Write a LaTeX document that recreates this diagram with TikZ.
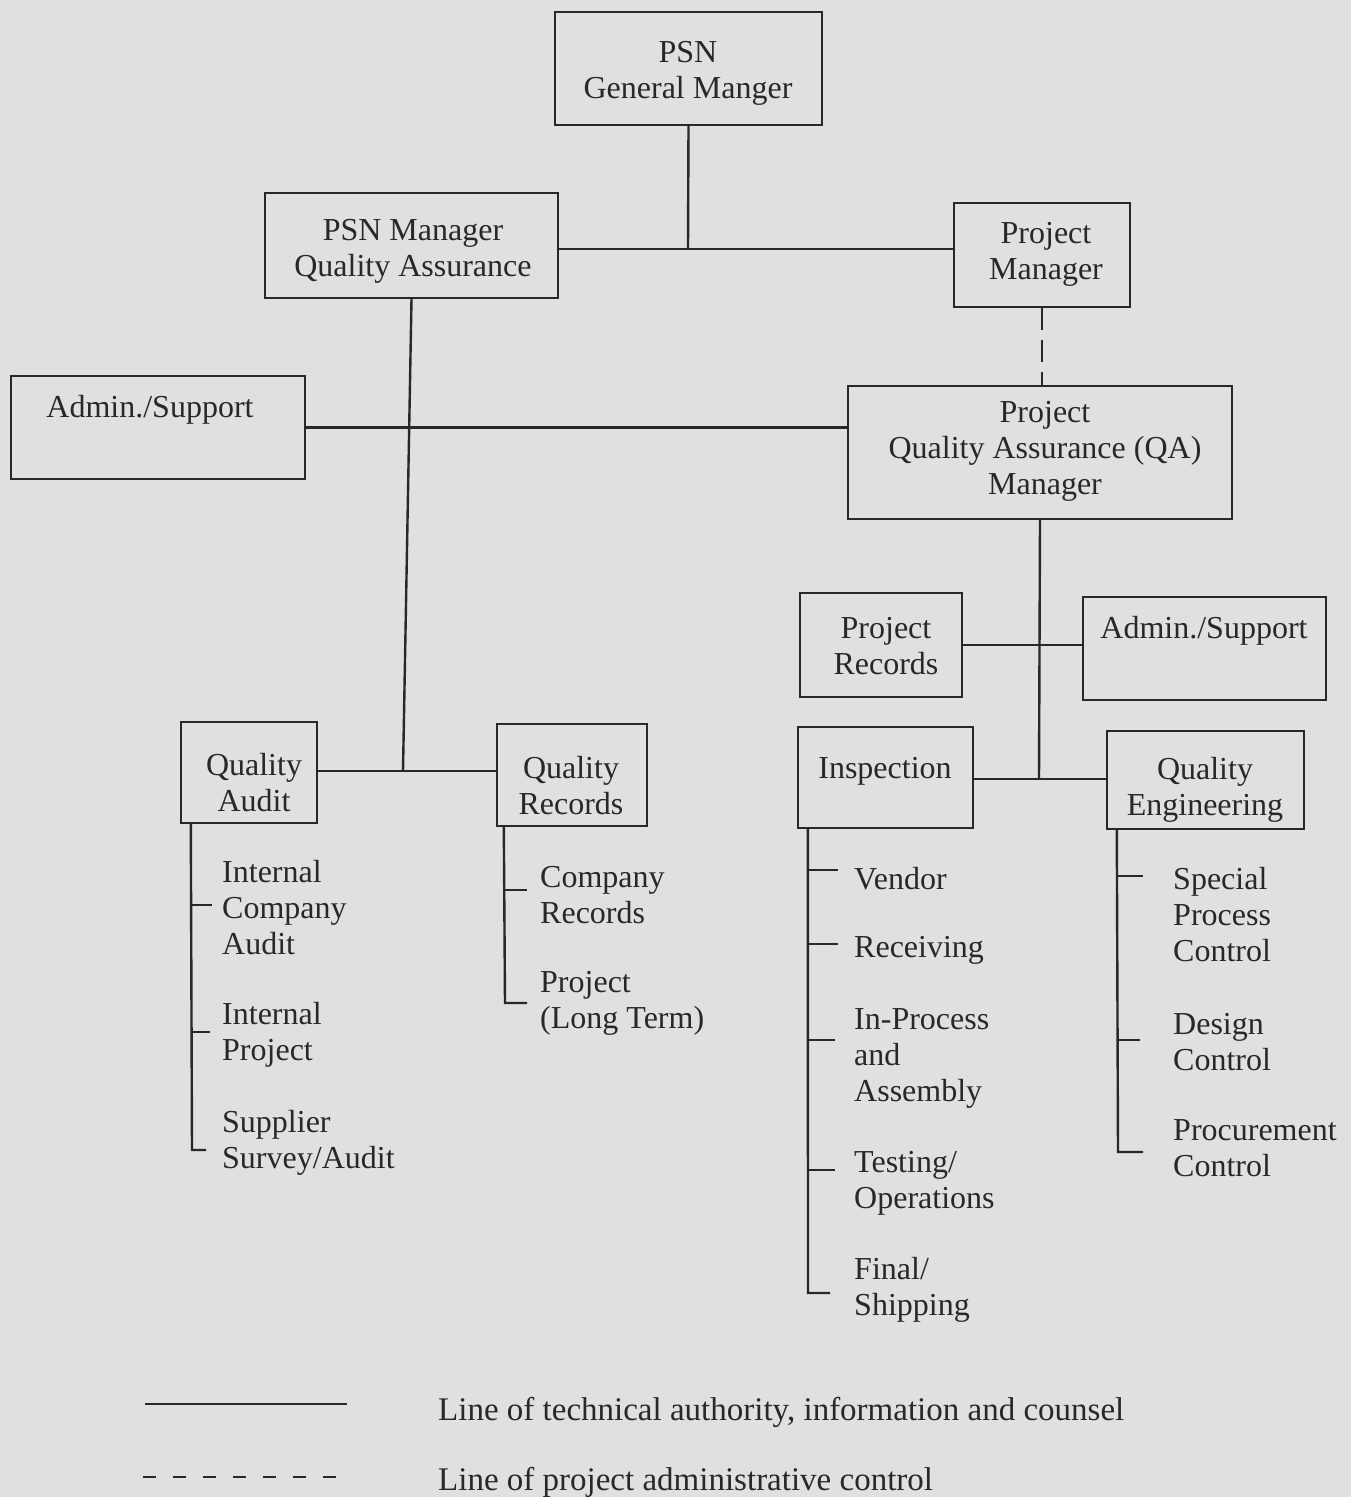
\documentclass[tikz,border=0pt]{standalone}
\usepackage{fontspec}
\setmainfont{Liberation Serif}
\definecolor{paper}{RGB}{224,224,224}
\definecolor{ink}{RGB}{40,40,40}
\begin{document}
\begin{tikzpicture}[x=1pt,y=-1pt,
  box/.style={draw=ink,line width=2.4pt,rectangle,inner sep=0pt},
  conn/.style={draw=ink,line width=2.4pt},
  dashconn/.style={draw=ink,line width=2.4pt,dash pattern=on 22pt off 10pt},
  txt/.style={text=ink,inner sep=0pt,align=center,font=\fontsize{32}{36}\selectfont},
  item/.style={text=ink,inner sep=0pt,align=left,anchor=west,font=\fontsize{32}{36}\selectfont},
  legtxt/.style={item,font=\fontsize{33}{36}\selectfont}]
\fill[paper] (0,0) rectangle (1351,1497);
\useasboundingbox (0,0) rectangle (1351,1497);

% boxes
\node[box,minimum width=267pt,minimum height=113pt] (gm) at (688.5,68.5) {};
\node[box,minimum width=293pt,minimum height=105pt] (psnqa) at (411.5,245.5) {};
\node[box,minimum width=176pt,minimum height=104pt] (pm) at (1042,255) {};
\node[box,minimum width=294pt,minimum height=103pt] (adminL) at (158,427.5) {};
\node[box,minimum width=384pt,minimum height=133pt] (pqa) at (1040,452.5) {};
\node[box,minimum width=162pt,minimum height=104pt] (precs) at (881,645) {};
\node[box,minimum width=243pt,minimum height=103pt] (adminR) at (1204.5,648.5) {};
\node[box,minimum width=136pt,minimum height=101pt] (qaud) at (249,772.5) {};
\node[box,minimum width=150pt,minimum height=102pt] (qrec) at (572,775) {};
\node[box,minimum width=175pt,minimum height=101pt] (insp) at (885.5,777.5) {};
\node[box,minimum width=197pt,minimum height=98pt] (qeng) at (1205.5,780) {};

% box texts
\node[txt] (tgm) at (688,73) {PSN\\General Manger};
\node[txt] (tpsnqa) at (413,251) {PSN Manager\\Quality Assurance};
\node[txt] (tpm) at (1046,254) {Project\\Manager};
\node[txt] (tadminL) at (150,410) {Admin./Support};
\node[txt] (tpqa) at (1045,451) {Project\\Quality Assurance (QA)\\Manager};
\node[txt] (tprecs) at (886,646) {Project\\Records};
\node[txt] (tadminR) at (1204,631) {Admin./Support};
\node[txt] (tqaud) at (254,783) {Quality\\Audit};
\node[txt] (tqrec) at (571,786) {Quality\\Records};
\node[txt] (tinsp) at (885,771) {Inspection};
\node[txt] (tqeng) at (1205,790) {Quality\\Engineering};

% junctions
\coordinate (j1) at (688,249);
\coordinate (j2) at (403,771);
\coordinate (j3) at (1040,645);
\coordinate (j4) at (1039,779);

% connectors
\draw[conn] (gm.south) -- (j1);
\draw[conn] (psnqa.east |- j1) -- (pm.west |- j1);
\draw[conn] (psnqa.south) -- (j2);
\draw[conn] (qaud.east |- j2) -- (qrec.west |- j2);
\draw[conn] (adminL.east) -- (pqa.west |- adminL.east);
\draw[dashconn] (pm.south) -- (pm.south |- pqa.north);
\draw[conn] (pqa.south) -- (j4);
\draw[conn] (precs.east |- j3) -- (adminR.west |- j3);
\draw[conn] (insp.east |- j4) -- (qeng.west |- j4);

% Quality Audit list
\draw[conn] ([xshift=11pt]qaud.south west) -- (192,1150) -- (206,1150);
\draw[conn] (192,905) -- (212,905);
\draw[conn] (192,1032) -- (210,1032);
\node[item] (ia1) at (222,908) {Internal\\Company\\Audit};
\node[item] (ia2) at (222,1035) {Internal\\Project};
\node[item] (ia3) at (222,1143) {Supplier\\Survey/Audit};

% Quality Records list
\draw[conn] ([xshift=8pt]qrec.south west) -- (505,1003) -- (527,1003);
\draw[conn] (505,890) -- (527,890);
\node[item] (ir1) at (540,895) {Company\\Records};
\node[item] (ir2) at (540,1003) {Project\\(Long Term)};

% Inspection list
\draw[conn] ([xshift=11pt]insp.south west) -- (808,1293) -- (830,1293);
\draw[conn] (809,870) -- (838,870);
\draw[conn] (809,944) -- (838,944);
\draw[conn] (808,1040) -- (835,1040);
\draw[conn] (808,1170) -- (835,1170);
\node[item] (ii1) at (854,879) {Vendor};
\node[item] (ii2) at (854,950) {Receiving};
\node[item] (ii3) at (854,1058) {In-Process\\and\\Assembly};
\node[item] (ii4) at (854,1183) {Testing/\\Operations};
\node[item] (ii5) at (854,1290) {Final/\\Shipping};

% Quality Engineering list
\draw[conn] ([xshift=11pt]qeng.south west) -- (1118,1152) -- (1143,1152);
\draw[conn] (1118,876) -- (1143,876);
\draw[conn] (1118,1040) -- (1140,1040);
\node[item] (iq1) at (1173,915) {Special\\Process\\Control};
\node[item] (iq2) at (1173,1042) {Design\\Control};
\node[item] (iq3) at (1173,1148) {Procurement\\Control};

% legend
\coordinate (ls1) at (145,1404);
\coordinate (ls2) at (347,1404);
\coordinate (ld1) at (143,1477);
\coordinate (ld2) at (343,1477);
\draw[conn] (ls1) -- (ls2);
\draw[draw=ink,line width=2.4pt,dash pattern=on 13pt off 17pt] (ld1) -- (ld2);
\node[legtxt] (lt1) at (438,1412) {Line of technical authority, information and counsel};
\node[legtxt] (lt2) at (438,1482) {Line of project administrative control};
\end{tikzpicture}
\end{document}
